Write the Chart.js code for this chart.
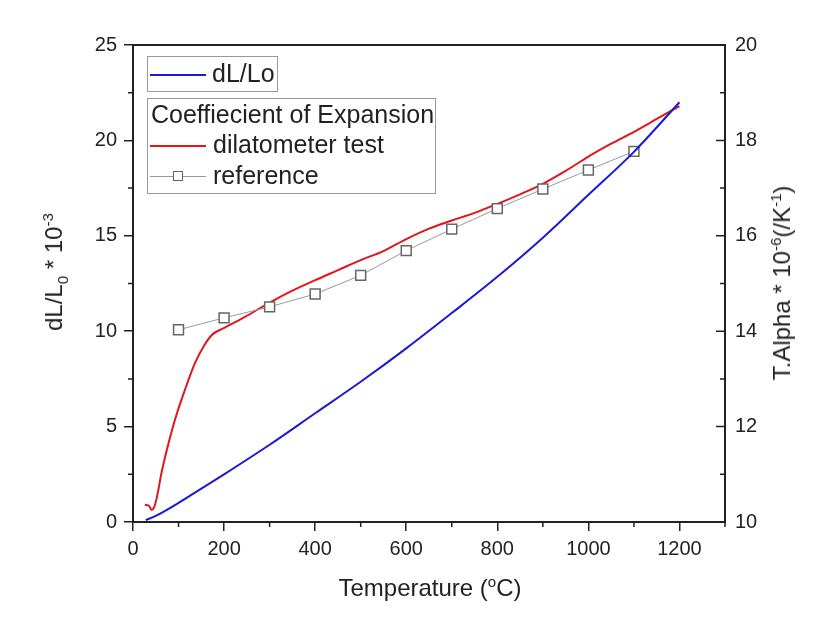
<!DOCTYPE html>
<html>
<head>
<meta charset="utf-8">
<script src="https://cdn.jsdelivr.net/npm/chart.js@4"></script>
<style>
  body { margin: 0; background: #fff; }
  #wrap { position: relative; width: 831px; height: 623px; font-family: "Liberation Sans", Arial, sans-serif; color: #222; }
  canvas { position: absolute; left: 0; top: 0; }
  .t { position: absolute; font-size: 24px; line-height: 24px; white-space: nowrap; }
  .lg { font-size: 25px; }
  .t sup, .t sub { font-size: 15px; line-height: 0; }
  .rot { transform: translate(-50%, -50%) rotate(-90deg); }
  .box { position: absolute; border: 1px solid #999; box-sizing: border-box; }
  .ln { position: absolute; height: 2px; }
  .mk { position: absolute; width: 10px; height: 10px; border: 1.5px solid #666; background: #fff; box-sizing: border-box; }
</style>
</head>
<body>
<div id="wrap">
  <canvas id="c" width="831" height="623"></canvas>

  <!-- legends -->
  <div class="box" style="left:147px;top:56px;width:131px;height:36px;"></div>
  <div class="ln" style="left:150px;top:74px;width:56px;background:#1a1ad6;"></div>
  <div class="t lg" style="left:212px;top:61px;">dL/Lo</div>

  <div class="box" style="left:147px;top:98px;width:289px;height:96px;"></div>
  <div class="t lg" style="left:151px;top:102px;">Coeffiecient of Expansion</div>
  <div class="ln" style="left:150px;top:145px;width:56px;background:#e0161c;"></div>
  <div class="t lg" style="left:213px;top:132px;">dilatometer test</div>
  <div class="ln" style="left:150px;top:176px;width:56px;height:1px;background:#999;"></div>
  <div class="mk" style="left:173px;top:171px;"></div>
  <div class="t lg" style="left:213px;top:163px;">reference</div>

  <!-- axis titles -->
  <div class="t" style="left:430px;top:576px;transform:translateX(-50%);">Temperature (<sup>o</sup>C)</div>
  <div class="t rot" style="left:54px;top:272px;">dL/L<sub>0</sub> * 10<sup>-3</sup></div>
  <div class="t rot" style="left:782px;top:283px;">T.Alpha * 10<sup>-6</sup>(/K<sup>-1</sup>)</div>
</div>

<script>
// dL/Lo (left axis, 10^-3)
const tempBlue = [28, 50, 100, 150, 200, 300, 400, 500, 600, 700, 800, 900, 1000, 1100, 1200];
const dLL = [0.1, 0.32, 1.0, 1.75, 2.5, 4.05, 5.7, 7.35, 9.1, 10.95, 12.85, 14.9, 17.15, 19.4, 22.0];

// coefficient of expansion, dilatometer test (right axis, 10^-6/K)
const tempTest = [26, 35, 41, 46, 52, 63, 78, 92, 114, 136, 155, 173, 198, 246, 300, 350, 400, 450, 500,
                  550, 600, 650, 700, 750, 800, 850, 900, 950, 1000, 1050, 1100, 1150, 1200];
const alphaTest = [10.36, 10.34, 10.25, 10.3, 10.5, 11.05, 11.65, 12.14, 12.77, 13.33, 13.68, 13.92, 14.06,
                   14.30, 14.6, 14.85, 15.07, 15.28, 15.49, 15.68, 15.93, 16.15, 16.32, 16.48, 16.67, 16.87,
                   17.09, 17.36, 17.66, 17.93, 18.18, 18.45, 18.72];

// reference values
const tempRef = [100, 200, 300, 400, 500, 600, 700, 800, 900, 1000, 1100];
const alphaRef = [14.03, 14.28, 14.51, 14.78, 15.17, 15.69, 16.14, 16.57, 16.98, 17.38, 17.77];

// ticks
const xTicks = [0, 200, 400, 600, 800, 1000, 1200];
const xMinor = [100, 300, 500, 700, 900, 1100, 1300];
const yTicks = [0, 5, 10, 15, 20, 25];
const yMinor = [2.5, 7.5, 12.5, 17.5, 22.5];
const y2Ticks = [10, 12, 14, 16, 18, 20];
const y2Minor = [11, 13, 15, 17, 19];

const ink = '#222';
const tickFont = { family: '"Liberation Sans", Arial, sans-serif', size: 20 };

function pts(xs, ys) {
    return xs.map((x, i) => ({ x: x, y: ys[i] }));
}

// frame top + minor ticks + inward ticks on right axis
const framePlugin = {
    id: 'frame',
    afterDraw(chart) {
        const ctx = chart.ctx;
        const a = chart.chartArea;
        const sx = chart.scales.x, sy = chart.scales.y, sy2 = chart.scales.y2;
        ctx.save();
        ctx.strokeStyle = ink;
        ctx.lineWidth = 2;
        ctx.beginPath();
        ctx.moveTo(a.left - 1, a.top);
        ctx.lineTo(a.right + 1, a.top);
        ctx.stroke();

        ctx.lineWidth = 1.5;
        ctx.beginPath();
        xMinor.forEach(v => {
            const px = sx.getPixelForValue(v);
            ctx.moveTo(px, a.bottom);
            ctx.lineTo(px, a.bottom + 5);
        });
        yMinor.forEach(v => {
            const py = sy.getPixelForValue(v);
            ctx.moveTo(a.left, py);
            ctx.lineTo(a.left - 5, py);
        });
        y2Ticks.forEach(v => {
            const py = sy2.getPixelForValue(v);
            ctx.moveTo(a.right, py);
            ctx.lineTo(a.right - 9, py);
        });
        y2Minor.forEach(v => {
            const py = sy2.getPixelForValue(v);
            ctx.moveTo(a.right, py);
            ctx.lineTo(a.right - 5, py);
        });
        ctx.stroke();
        ctx.restore();
    }
};

new Chart(document.getElementById('c'), {
    type: 'line',
    data: {
        datasets: [{
            label: 'dL/Lo',
            data: pts(tempBlue, dLL),
            yAxisID: 'y',
            borderColor: '#1a1ad6',
            borderWidth: 2,
            pointRadius: 0,
            cubicInterpolationMode: 'monotone'
        }, {
            label: 'reference',
            data: pts(tempRef, alphaRef),
            yAxisID: 'y2',
            borderColor: '#999',
            borderWidth: 1,
            pointStyle: 'rect',
            pointRadius: 7,
            pointBackgroundColor: '#fff',
            pointBorderColor: '#666',
            pointBorderWidth: 1.5,
            tension: 0
        }, {
            label: 'dilatometer test',
            data: pts(tempTest, alphaTest),
            yAxisID: 'y2',
            borderColor: '#e0161c',
            borderWidth: 2,
            pointRadius: 0,
            cubicInterpolationMode: 'monotone'
        }]
    },
    options: {
        responsive: false,
        animation: false,
        layout: { padding: { top: 45, left: 0, right: 0, bottom: 0 } },
        plugins: {
            legend: { display: false },
            tooltip: { enabled: false }
        },
        scales: {
            x: {
                type: 'linear',
                min: 0,
                max: 1300,
                afterBuildTicks: s => { s.ticks = xTicks.map(v => ({ value: v })); },
                afterFit: s => { s.height = 101; },
                grid: { drawOnChartArea: false, tickLength: 9, color: ink, lineWidth: 1.5 },
                border: { color: ink, width: 2 },
                ticks: { font: tickFont, color: ink, padding: 6, maxRotation: 0, callback: v => String(v) }
            },
            y: {
                position: 'left',
                min: 0,
                max: 25,
                afterBuildTicks: s => { s.ticks = yTicks.map(v => ({ value: v })); },
                afterFit: s => { s.width = 133; },
                grid: { drawOnChartArea: false, tickLength: 9, color: ink, lineWidth: 1.5 },
                border: { color: ink, width: 2 },
                ticks: { font: tickFont, color: ink, padding: 7, callback: v => String(v) }
            },
            y2: {
                position: 'right',
                min: 10,
                max: 20,
                afterBuildTicks: s => { s.ticks = y2Ticks.map(v => ({ value: v })); },
                afterFit: s => { s.width = 106; },
                grid: { drawOnChartArea: false, drawTicks: false },
                border: { color: ink, width: 2 },
                ticks: { font: tickFont, color: ink, padding: 10, callback: v => String(v) }
            }
        }
    },
    plugins: [framePlugin]
});
</script>
</body>
</html>
